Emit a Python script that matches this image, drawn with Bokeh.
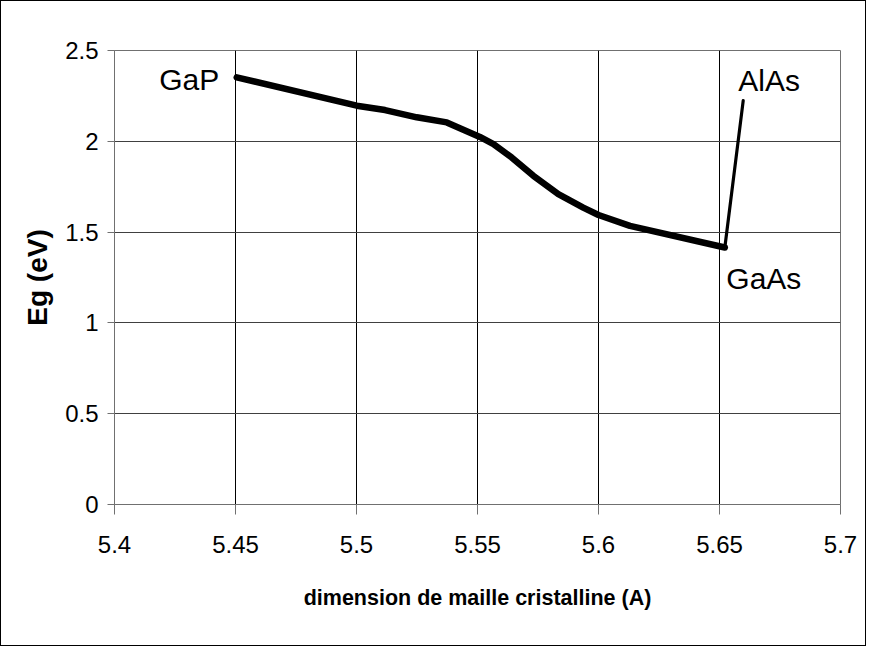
from bokeh.plotting import figure
from bokeh.models import FixedTicker, Range1d, Label
from bokeh.embed import file_html
from bokeh.resources import INLINE

# GaP -> GaAs alloy (thick line)
lattice_gaasp = [5.4505, 5.5001, 5.5118, 5.5249, 5.5373, 5.551, 5.5566, 5.5641,
                 5.5731, 5.5834, 5.5937, 5.6, 5.613, 5.6522]
eg_gaasp = [2.352, 2.196, 2.172, 2.132, 2.104, 2.024, 1.985, 1.911,
            1.810, 1.709, 1.635, 1.594, 1.534, 1.415]
# GaAs -> AlAs alloy (thin line)
lattice_algaas = [5.6522, 5.6598]
eg_algaas = [1.415, 2.224]

x_ticks = [5.4, 5.45, 5.5, 5.55, 5.6, 5.65, 5.7]
y_ticks = [0, 0.5, 1, 1.5, 2, 2.5]

label_names = ["GaP", "GaAs", "AlAs"]
label_x = [5.4505, 5.6522, 5.6598]
label_y = [2.352, 1.415, 2.224]

FONT = "Liberation Sans"

p = figure(width=866, height=646, output_backend="svg", toolbar_location=None,
           x_range=Range1d(5.4, 5.7), y_range=Range1d(0, 2.5),
           min_border_left=113, min_border_right=27, min_border_top=49, min_border_bottom=143)
p.styles = {"border": "1px solid black"}
p.background_fill_color = "white"
p.border_fill_color = "white"
p.outline_line_color = "#707070"
p.outline_line_width = 1

p.xaxis.ticker = FixedTicker(ticks=x_ticks)
p.yaxis.ticker = FixedTicker(ticks=y_ticks)
p.xaxis.major_label_overrides = {5.4: "5.4", 5.45: "5.45", 5.5: "5.5", 5.55: "5.55",
                                 5.6: "5.6", 5.65: "5.65", 5.7: "5.7"}
p.yaxis.major_label_overrides = {0: "0", 0.5: "0.5", 1: "1", 1.5: "1.5", 2: "2", 2.5: "2.5"}

for ax in (p.xaxis, p.yaxis):
    ax.axis_line_color = "#707070"
    ax.major_tick_line_color = "#707070"
    ax.minor_tick_line_color = None
    ax.major_tick_in = 0
    ax.major_label_text_font = FONT
    ax.major_label_text_font_size = "24px"
    ax.major_label_text_color = "black"
    ax.axis_label_text_font = FONT
    ax.axis_label_text_font_style = "bold"
    ax.axis_label_text_color = "black"

p.xaxis.major_tick_out = 10
p.yaxis.major_tick_out = 7
p.xaxis.major_label_standoff = 21
p.yaxis.major_label_standoff = 9
p.xaxis.axis_label = "dimension de maille cristalline (A)"
p.yaxis.axis_label = "Eg (eV)"
p.xaxis.axis_label_text_font_size = "21.5px"
p.yaxis.axis_label_text_font_size = "28px"
p.xaxis.axis_label_standoff = 30
p.yaxis.axis_label_standoff = 9

p.xgrid.grid_line_color = "black"
p.ygrid.grid_line_color = "#404040"
p.xgrid.grid_line_width = 1
p.ygrid.grid_line_width = 1

p.line(lattice_gaasp, eg_gaasp, line_color="black", line_width=6.5,
       line_join="round", line_cap="round")
p.line(lattice_algaas, eg_algaas, line_color="black", line_width=3.2,
       line_join="round", line_cap="round")

offsets = {"GaP": (-17.5, -2.5, "right"), "GaAs": (1.5, -31, "left"), "AlAs": (-5, 20, "left")}
for name, lx, ly in zip(label_names, label_x, label_y):
    dx, dy, align = offsets[name]
    p.add_layout(Label(x=lx, y=ly, text=name, x_offset=dx, y_offset=dy,
                       text_align=align, text_baseline="alphabetic",
                       text_font=FONT, text_font_size="30px", text_color="black"))

open("out.html", "w").write(file_html(p, INLINE))
